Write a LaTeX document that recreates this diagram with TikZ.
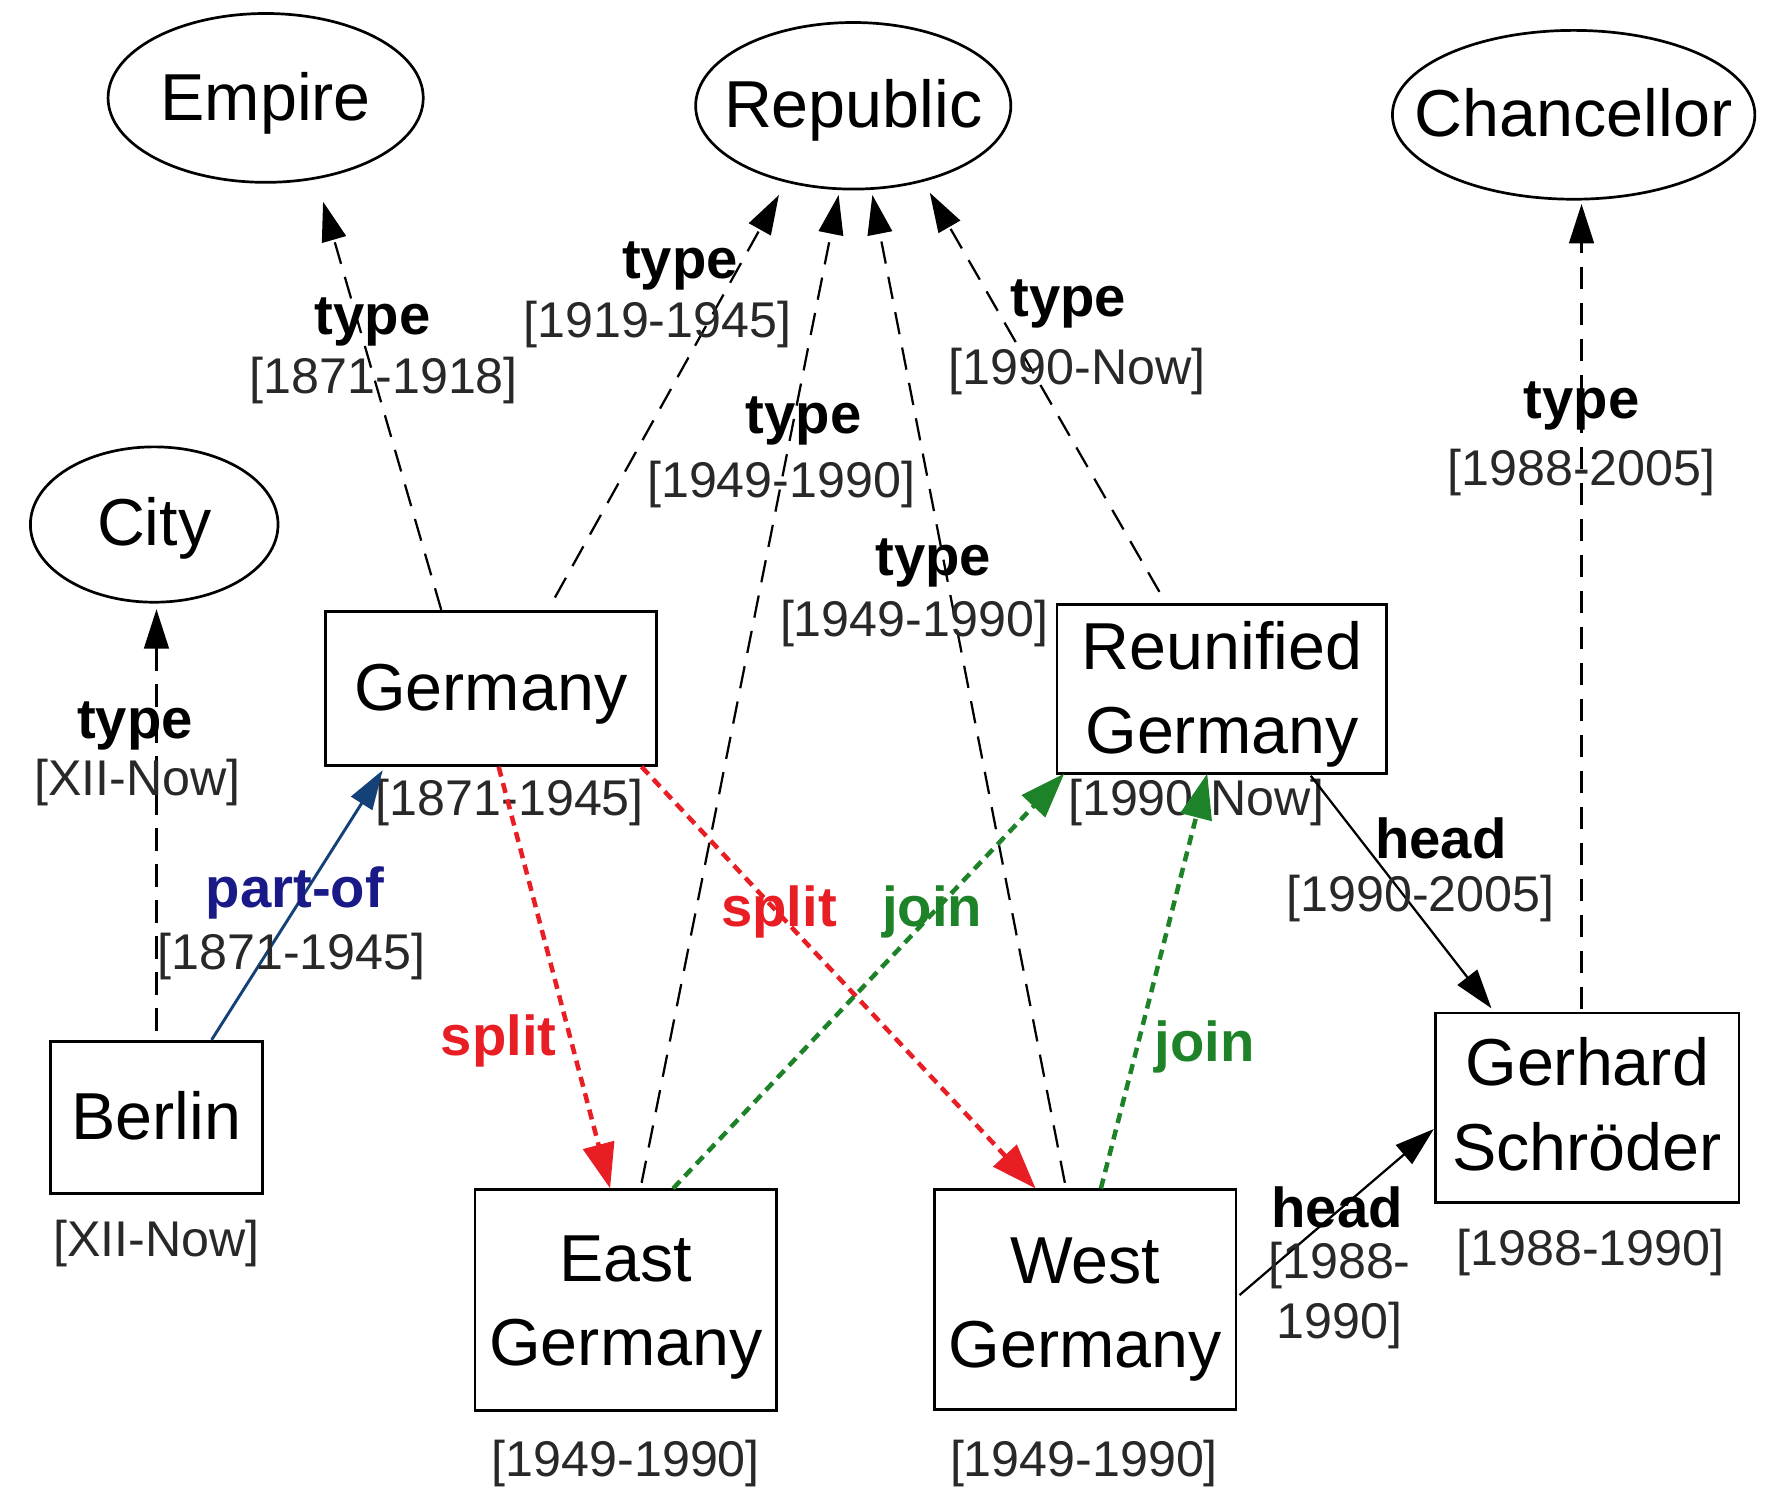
\documentclass[tikz,border=0pt]{standalone}
\usepackage{fontspec}
\setmainfont{Liberation Sans}
\usetikzlibrary{shapes.geometric,arrows.meta,calc}
\definecolor{splitred}{RGB}{232,30,36}
\definecolor{joingreen}{RGB}{30,130,40}
\definecolor{partblue}{RGB}{20,65,120}
\definecolor{parttext}{RGB}{25,25,135}
\definecolor{datecol}{RGB}{40,40,40}
% node text, lowered by #1 without changing its reported extent
\newcommand{\ntext}[2][0pt]{\raisebox{-#1}[\height][\depth]{\begin{tabular}{@{}c@{}}#2\end{tabular}}}
\begin{document}
\begin{tikzpicture}[x=0.5pt,y=-0.5pt,
  ent/.style={draw, line width=1.2pt, rectangle, inner sep=0pt,
    font=\fontsize{29.5}{37.5}\selectfont},
  cls/.style={draw, line width=1.2pt, ellipse, inner sep=0pt,
    font=\fontsize{29.5}{37.5}\selectfont},
  lbl/.style={inner sep=0pt, font=\bfseries\fontsize{25}{30}\selectfont},
  dt/.style={inner sep=0pt, text=datecol, align=center, font=\fontsize{22.3}{26.5}\selectfont},
  typeedge/.style={line width=1pt, dash pattern=on 10pt off 6pt,
    -{Triangle[length=17.5pt,width=11pt]}},
  splitedge/.style={line width=2pt, splitred, dash pattern=on 4.5pt off 3pt,
    -{Triangle[length=20pt,width=14pt]}},
  joinedge/.style={line width=2pt, joingreen, dash pattern=on 4.5pt off 3pt,
    -{Triangle[length=20pt,width=14pt]}},
  headedge/.style={line width=1pt, -{Triangle[length=17.5pt,width=11pt]}},
  partedge/.style={line width=1.3pt, partblue, -{Triangle[length=17.5pt,width=11pt]}}
]
\useasboundingbox (0,0) rectangle (1568,1325);

% class ellipses
\node[cls, minimum width=140pt, minimum height=75pt] (empire) at (236,87) {\makebox[0pt]{\ntext[2.5pt]{Empire}}};
\node[cls, minimum width=140pt, minimum height=74pt] (republic) at (758,94) {\makebox[0pt]{\ntext[2pt]{Republic}}};
\node[cls, minimum width=161pt, minimum height=75pt] (chancellor) at (1398,102) {\makebox[0pt]{\ntext[2pt]{Chancellor}}};
\node[cls, minimum width=110pt, minimum height=69pt] (city) at (137,466) {\makebox[0pt]{\ntext[2pt]{City}}};

% entity boxes
\node[ent, minimum width=147pt, minimum height=68.5pt] (germany) at (436,611.5) {\ntext[2.5pt]{Germany}};
\node[ent, minimum width=146.5pt, minimum height=75pt] (reunified) at (1085.5,612) {\ntext[2.5pt]{Reunified\\Germany}};
\node[ent, minimum width=94pt, minimum height=67.5pt] (berlin) at (139,992.5) {\ntext[2.5pt]{Berlin}};
\node[ent, minimum width=134pt, minimum height=98pt] (east) at (556,1155) {\ntext[3pt]{East\\Germany}};
\node[ent, minimum width=134pt, minimum height=97.5pt] (west) at (964,1154.5) {\ntext[4pt]{West\\Germany}};
\node[ent, minimum width=135pt, minimum height=84pt] (schroeder) at (1410,984) {\ntext[1.5pt]{Gerhard\\Schröder}};

% entity validity dates
\node[dt] (dgermany) at (453,713) {[1871-1945]};
\node[dt] (dreunified) at (1063,713) {[1990-Now]};
\node[dt] (dberlin) at (139,1105) {[XII-Now]};
\node[dt] (deast) at (556,1300) {[1949-1990]};
\node[dt] (dwest) at (963,1300) {[1949-1990]};
\node[dt] (dschroeder) at (1413,1113) {[1988-1990]};

% type edges
\draw[typeedge] ($(germany.north)+(-44,0)$) -- ($(empire.south)+(51,16)$);
\draw[typeedge] ($(germany.north)+(57,-11)$) -- ($(republic.south)+(-66,4)$);
\draw[typeedge] ($(east.north)+(14,-5)$) -- ($(republic.south)+(-13,4)$);
\draw[typeedge] ($(west.north)+(-18,-5)$) -- ($(republic.south)+(17,4)$);
\draw[typeedge] ($(reunified.north)+(-55.5,-10)$) -- ($(republic.south)+(68,2)$);
\draw[typeedge] ($(schroeder.north)+(-5,-2)$) -- ($(chancellor.south)+(7,3)$);
\draw[typeedge] ($(berlin.north)+(0,-8)$) -- ($(city.south)+(2,5)$);

% part-of
\draw[partedge] ($(berlin.north)+(49,0)$) -- ($(germany.south)+(-96,3)$);

% split / join
\draw[splitedge] ($(germany.south)+(7,0)$) -- ($(east.north)+(-14,0)$);
\draw[splitedge] ($(germany.south)+(134,0)$) -- ($(west.north)+(-44,0)$);
\draw[joinedge] ($(east.north)+(42,0)$) -- ($(reunified.south)+(-140,-1)$);
\draw[joinedge] ($(west.north)+(14,0)$) -- ($(reunified.south)+(-13,-1)$);

% head
\draw[headedge] ($(reunified.south)+(79,1)$) -- ($(schroeder.north)+(-85,-3)$);
\draw[headedge] ($(west.east)+(2,-4)$) -- ($(schroeder.west)+(0,19)$);

% edge labels
\node[lbl] (t1) at (331,286) {type};
\node[dt] (d1) at (341,338) {[1871-1918]};
\node[lbl] (t2) at (604,236) {type};
\node[dt] (d2) at (584,288) {[1919-1945]};
\node[lbl] (t3) at (714,374) {type};
\node[dt] (d3) at (694,430) {[1949-1990]};
\node[lbl] (t4) at (829,500) {type};
\node[dt] (d4) at (812,554) {[1949-1990]};
\node[lbl] (t5) at (949,270) {type};
\node[dt] (d5) at (957,330) {[1990-Now]};
\node[lbl] (t6) at (1405,361) {type};
\node[dt] (d6) at (1405,420) {[1988-2005]};
\node[lbl] (t7) at (120,645) {type};
\node[dt] (d7) at (122,695) {[XII-Now]};
\node[lbl, text=parttext] (t8) at (262,793) {part-of};
\node[dt] (d8) at (259,850) {[1871-1945]};
\node[lbl, text=splitred] (s1) at (443,925) {split};
\node[lbl, text=splitred] (s2) at (692,810) {split};
\node[lbl, text=joingreen] (j1) at (828,810) {join};
\node[lbl, text=joingreen] (j2) at (1070,930) {join};
\node[lbl] (h1) at (1280,745) {head};
\node[dt] (dh1) at (1262,798) {[1990-2005]};
\node[lbl] (h2) at (1188,1073) {head};
\node[dt] (dh2) at (1190,1151) {[1988-\\1990]};
\end{tikzpicture}
\end{document}
